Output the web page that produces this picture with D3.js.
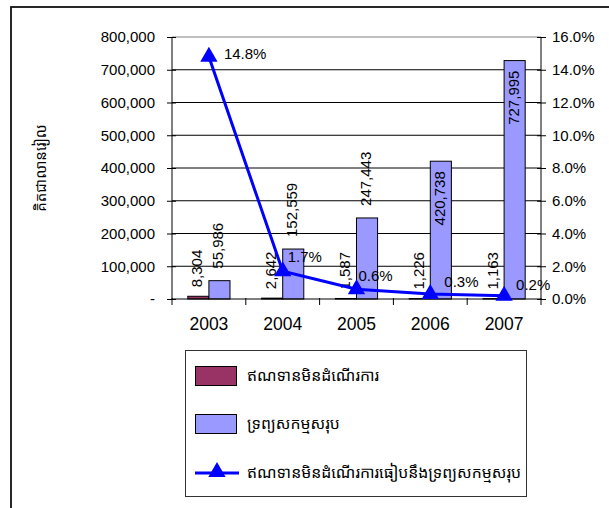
<!DOCTYPE html>
<html><head><meta charset="utf-8">
<script src="https://cdn.jsdelivr.net/npm/d3@7"></script>
<style>
html,body{margin:0;padding:0;background:#fff;}
svg{display:block;}
text{font-family:"Liberation Sans",Arial,"Noto Sans","Noto Sans Khmer",sans-serif;fill:#000;}
</style></head>
<body>
<svg id="chart" width="609" height="508"></svg>
<script>
// ---- data ----
const years = ["2003","2004","2005","2006","2007"];
const nplValues = [8304, 2642, 1587, 1226, 1163];
const assetValues = [55986, 152559, 247443, 420738, 727995];
const ratioValues = [14.8, 1.7, 0.6, 0.3, 0.2];
const leftTicks = [0,100000,200000,300000,400000,500000,600000,700000,800000];
const rightTicks = [0,2,4,6,8,10,12,14,16];
const seriesNames = ["ឥណទានមិនដំណើរការ","ទ្រព្យសកម្មសរុប","ឥណទានមិនដំណើរការធៀបនឹងទ្រព្យសកម្មសរុប"];
const yTitle = "គិតជាលានរៀល";

// ---- styling / layout config ----
const assetLabelInside = [false,false,false,true,true];
const pctLabelOffsets = [[15,-2],[5,-13],[2,-12],[14,-11],[12,-10]];
const colNpl = "#993366", colAsset = "#9999FF", colLine = "#0000FF";

const svg = d3.select("#chart");
const L = 172, R = 541, T = 37, B = 299;

// outer frame
svg.append("rect").attr("x",11).attr("y",7).attr("width",640).attr("height",540)
  .attr("fill","none").attr("stroke","#111").attr("stroke-width",1.8);

const x = d3.scaleBand().domain(years).range([L,R]).paddingInner(0).paddingOuter(0);
const xs = d3.scaleBand().domain(["npl","asset"]).range([0,x.bandwidth()]).paddingInner(0).paddingOuter(0.75);
const yL = d3.scaleLinear().domain([0,800000]).range([B,T]);
const yR = d3.scaleLinear().domain([0,16]).range([B,T]);

// gridlines
svg.append("g").selectAll("line").data(leftTicks.filter(d=>d>0 && d<800000)).join("line")
  .attr("x1",L).attr("x2",R).attr("y1",d=>yL(d)).attr("y2",d=>yL(d))
  .attr("stroke","#000").attr("stroke-width",1);
svg.append("line").attr("x1",L).attr("x2",R).attr("y1",T).attr("y2",T).attr("stroke","#808080").attr("stroke-width",1);

// bars
const g = svg.append("g");
years.forEach((yr,i)=>{
  g.append("rect").attr("x",x(yr)+xs("npl")).attr("y",yL(nplValues[i]))
    .attr("width",xs.bandwidth()).attr("height",B-yL(nplValues[i]))
    .attr("fill",colNpl).attr("stroke","#000").attr("stroke-width",1);
  g.append("rect").attr("x",x(yr)+xs("asset")).attr("y",yL(assetValues[i]))
    .attr("width",xs.bandwidth()).attr("height",B-yL(assetValues[i]))
    .attr("fill",colAsset).attr("stroke","#000").attr("stroke-width",1);
});

// axes
const fmtL = d=> d===0 ? "-" : d3.format(",")(d);
const axL = d3.axisLeft(yL).tickValues(leftTicks).tickFormat(fmtL).tickSize(5).tickPadding(12);
const gL = svg.append("g").attr("transform",`translate(${L},0)`).call(axL);
const axR = d3.axisRight(yR).tickValues(rightTicks).tickFormat(d=>d3.format(".1f")(d)+"%").tickSize(5).tickPadding(6);
const gR = svg.append("g").attr("transform",`translate(${R},0)`).call(axR);
[gL,gR].forEach(gg=>{
  gg.select(".domain").attr("stroke","#000").attr("d", `M0,${T}V${B}`);
  gg.selectAll(".tick line").attr("stroke","#000");
  gg.selectAll(".tick text").attr("font-size",15).style("font-family","'Liberation Sans',Arial,sans-serif");
});
gL.selectAll(".tick line").attr("x1",4);
gR.selectAll(".tick line").attr("x1",-4);

// x axis
const gX = svg.append("g");
gX.append("line").attr("x1",L).attr("x2",R).attr("y1",B).attr("y2",B).attr("stroke","#000");
const bounds = years.map(y=>x(y)).concat([R]);
gX.selectAll("line.t").data(bounds).join("line").attr("class","t")
  .attr("x1",d=>d).attr("x2",d=>d).attr("y1",B-1).attr("y2",B+6).attr("stroke","#000");
gX.selectAll("text").data(years).join("text")
  .attr("x",d=>x(d)+x.bandwidth()/2).attr("y",325).attr("text-anchor","middle")
  .attr("dominant-baseline","middle").attr("font-size",17.5).text(d=>d);

// bar labels (rotated)
const fmt = d3.format(",");
years.forEach((yr,i)=>{
  const cx1 = x(yr)+xs("npl")+xs.bandwidth()/2;
  const y1 = yL(nplValues[i]) - 9;
  g.append("text").attr("transform",`translate(${cx1},${y1}) rotate(-90)`)
    .attr("text-anchor","start").attr("dominant-baseline","middle").attr("font-size",15)
    .text(fmt(nplValues[i]));
  const cx2 = x(yr)+xs("asset")+xs.bandwidth()/2;
  if(assetLabelInside[i]){
    const y2 = yL(assetValues[i]) + 10;
    g.append("text").attr("transform",`translate(${cx2},${y2}) rotate(-90)`)
      .attr("text-anchor","end").attr("dominant-baseline","middle").attr("font-size",15)
      .text(fmt(assetValues[i]));
  } else {
    const y2 = yL(assetValues[i]) - 12;
    g.append("text").attr("transform",`translate(${cx2},${y2}) rotate(-90)`)
      .attr("text-anchor","start").attr("dominant-baseline","middle").attr("font-size",15)
      .text(fmt(assetValues[i]));
  }
});

// line
const cx = d=> x(d)+x.bandwidth()/2;
const line = d3.line().x((d,i)=>cx(years[i])).y(d=>yR(d));
svg.append("path").datum(ratioValues).attr("d",line).attr("fill","none")
  .attr("stroke",colLine).attr("stroke-width",3);
const tri = d3.symbol().type(d3.symbolTriangle).size(130);
svg.append("g").selectAll("path").data(ratioValues).join("path")
  .attr("transform",(d,i)=>`translate(${cx(years[i])},${yR(d)})`)
  .attr("d",tri).attr("fill",colLine);
svg.append("g").selectAll("text").data(ratioValues).join("text")
  .attr("x",(d,i)=>cx(years[i])+pctLabelOffsets[i][0])
  .attr("y",(d,i)=>yR(d)+pctLabelOffsets[i][1])
  .attr("dominant-baseline","middle").attr("font-size",15)
  .text(d=>d3.format(".1f")(d)+"%");

// y title
svg.append("text").attr("transform","translate(42,168) rotate(-90)")
  .attr("text-anchor","middle").attr("dominant-baseline","middle").attr("font-size",15).text(yTitle);

// legend
const lg = svg.append("g");
lg.append("rect").attr("x",185.5).attr("y",350.5).attr("width",341).attr("height",146)
  .attr("fill","#fff").attr("stroke","#333").attr("stroke-width",1);
lg.append("rect").attr("x",195.5).attr("y",366.5).attr("width",41).attr("height",19)
  .attr("fill",colNpl).attr("stroke","#000");
lg.append("rect").attr("x",195.5).attr("y",414.5).attr("width",41).attr("height",19)
  .attr("fill",colAsset).attr("stroke","#000");
lg.append("line").attr("x1",195).attr("x2",239).attr("y1",473).attr("y2",473)
  .attr("stroke",colLine).attr("stroke-width",3);
lg.append("path").attr("transform","translate(217,472)").attr("d",tri).attr("fill",colLine);
const lgY = [377,425,474];
lg.selectAll("text").data(seriesNames).join("text")
  .attr("x",247).attr("y",(d,i)=>lgY[i]).attr("dominant-baseline","middle")
  .attr("font-size",15.8).text(d=>d);
</script>
</body></html>
